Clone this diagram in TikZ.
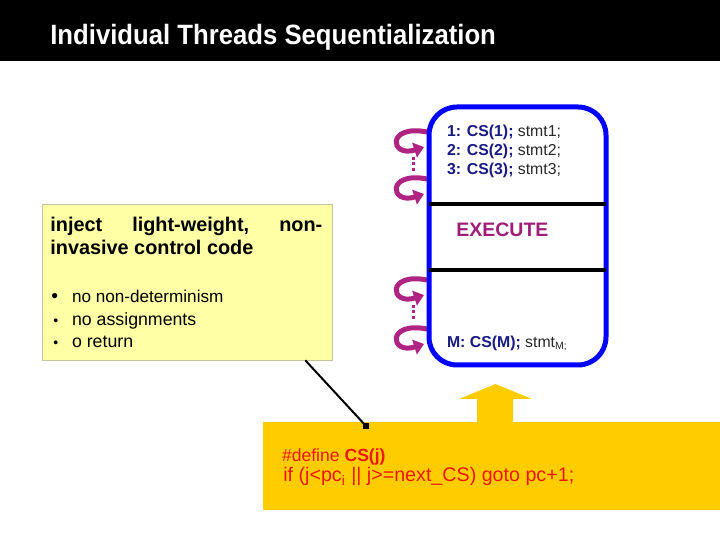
\documentclass[tikz,border=0pt]{standalone}
\usepackage{fontspec}
\setmainfont{Liberation Sans}
\newfontfamily\titlefont[FakeStretch=0.92]{Liberation Sans}
\usetikzlibrary{arrows.meta}
\definecolor{codeblue}{RGB}{25,25,130}
\definecolor{execmag}{RGB}{160,30,120}
\definecolor{loopmag}{RGB}{175,35,130}
\definecolor{noteyellow}{RGB}{255,255,165}
\definecolor{noteedge}{RGB}{195,195,160}
\definecolor{csgold}{RGB}{255,204,0}
\definecolor{csred}{RGB}{235,25,10}
\definecolor{stmtgray}{RGB}{40,40,40}
\begin{document}
\begin{tikzpicture}[x=0.02cm,y=-0.02cm,
        txt/.style={anchor=base west,inner sep=0pt},
        code/.style={txt,font=\fontsize{9}{11}\selectfont,text=stmtgray},
        notetxt/.style={txt,font=\fontsize{10.1}{12}\selectfont},
        loopy/.style={draw=loopmag,line width=0.1cm,-{Triangle[length=2mm,width=3mm]}},
        dotty/.style={draw=loopmag,line width=0.06cm,dash pattern=on 0.06cm off 0.05cm}]
    \useasboundingbox (0,0) rectangle (720,540);
    \fill[black] (0,0) rectangle (720,61);
    \node[txt,text=white,font=\titlefont\bfseries\fontsize{15.9}{18}\selectfont] (title) at (50,45) {Individual Threads Sequentialization};
    % loops in front of the thread
    \foreach \yc in {141,188,289,338}
        \draw[loopy] (427,\yc-9) .. controls (386,\yc-17) and (390,\yc+17) .. (424,\yc+6);
    \draw[dotty] (413,157) -- (413,171);
    \draw[dotty] (413,305) -- (413,319);
    \draw[blue,line width=0.1cm,fill=white,rounded corners=0.56cm] (429,107) rectangle (606,365);
    \draw[line width=0.08cm] (429,204) -- (606,204);
    \draw[line width=0.08cm] (429,270) -- (606,270);
    \draw
        (446.7,136.7) node[code] (cs1) {\textcolor{codeblue}{\bfseries 1: CS(1);} stmt1;}
        (446.7,155.7) node[code] (cs2) {\textcolor{codeblue}{\bfseries 2: CS(2);} stmt2;}
        (446.7,175) node[code] (cs3) {\textcolor{codeblue}{\bfseries 3: CS(3);} stmt3;}
        (456,236.7) node[txt,text=execmag,font=\bfseries\fontsize{11.1}{13}\selectfont] (exec) {EXECUTE}
        (446.7,348) node[code] (csm) {\textcolor{codeblue}{\bfseries M: CS(M);} stmt\textsubscript{M;}}
        ;
    % note box
    \node[draw=noteedge,fill=noteyellow,minimum width=5.8cm,minimum height=3.12cm,inner sep=0] (note) at (187,282) {};
    \draw
        (50,231.7) node[txt,text width=5.44cm,font=\bfseries\fontsize{11.3}{13.6}\selectfont] (inj1) {inject\hfill light-weight,\hfill non-}
        (50,255) node[txt,font=\bfseries\fontsize{11.3}{13.6}\selectfont] (inj2) {invasive control code}
        (51,302.7) node[txt,font=\fontsize{11}{13}\selectfont] (b1) {•}
        (71.7,302.7) node[txt,font=\fontsize{9.75}{12}\selectfont] (nondet) {no non-determinism}
        (53,325.7) node[notetxt,font=\fontsize{8}{10}\selectfont] (b2) {•}
        (71.7,325.7) node[notetxt] (noassign) {no assignments}
        (53,347.7) node[notetxt,font=\fontsize{8}{10}\selectfont] (b3) {•}
        (71.7,347.7) node[notetxt] (noret) {o return}
        ;
    % CS macro
    \node[fill=csgold,minimum width=9.14cm,minimum height=1.76cm,inner sep=0] (csdef) at (491.5,466) {};
    \fill[csgold] (477,423) -- (477,399) -- (459,399) -- (495.5,384) -- (532,399) -- (513,399) -- (513,423) -- cycle;
    \draw
        (281.7,461.7) node[txt,text=csred,font=\fontsize{10}{12}\selectfont] (define) {\#define \textbf{CS(j)}}
        (283,481.7) node[txt,text=csred,font=\fontsize{11.2}{13}\selectfont] (ifline) {if (j<pc\textsubscript{i} || j>=next\_CS) goto pc+1;}
        ;
    \node[fill=black,minimum size=0.12cm,inner sep=0] (pin) at (366,426) {};
    \draw[line width=0.04cm] ([xshift=-0.54cm]note.south east) -- (pin.center);
\end{tikzpicture}
\end{document}
